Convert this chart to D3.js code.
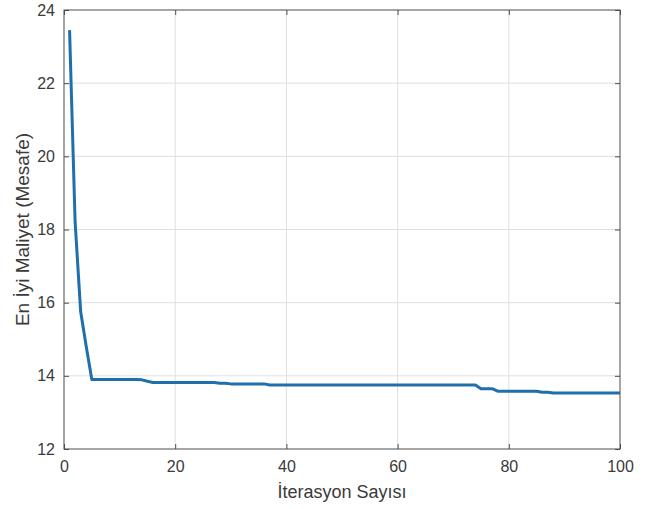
<!DOCTYPE html>
<html>
<head>
<meta charset="utf-8">
<script src="https://cdn.jsdelivr.net/npm/d3@7"></script>
<style>
body { margin: 0; background: #fff; }
svg text { font-family: "Liberation Sans", Arial, sans-serif; }
</style>
</head>
<body>
<script>
// en iyi maliyet per iterasyon (1..100)
var bestCost = [
    23.45, 18.2, 15.75, 14.8, 13.9, 13.9, 13.9, 13.9, 13.9, 13.9,
    13.9, 13.9, 13.9, 13.89, 13.85, 13.82, 13.82, 13.82, 13.82, 13.82,
    13.82, 13.82, 13.82, 13.82, 13.82, 13.82, 13.82, 13.8, 13.8, 13.78,
    13.78, 13.78, 13.78, 13.78, 13.78, 13.78, 13.75, 13.75, 13.75, 13.75,
    13.75, 13.75, 13.75, 13.75, 13.75, 13.75, 13.75, 13.75, 13.75, 13.75,
    13.75, 13.75, 13.75, 13.75, 13.75, 13.75, 13.75, 13.75, 13.75, 13.75,
    13.75, 13.75, 13.75, 13.75, 13.75, 13.75, 13.75, 13.75, 13.75, 13.75,
    13.75, 13.75, 13.75, 13.75, 13.65, 13.65, 13.65, 13.58, 13.58, 13.58,
    13.58, 13.58, 13.58, 13.58, 13.58, 13.55, 13.55, 13.53, 13.53, 13.53,
    13.53, 13.53, 13.53, 13.53, 13.53, 13.53, 13.53, 13.53, 13.53, 13.53
];
var iterations = bestCost.map(function(d, i) { return i + 1; });
var xTicks = [0, 20, 40, 60, 80, 100];
var yTicks = [12, 14, 16, 18, 20, 22, 24];

var W = 660, H = 509;
var margin = { top: 10, right: 40, bottom: 60, left: 64 },
    width = 620 - margin.left,
    height = 449 - margin.top;

var svg = d3.select("body")
    .append("svg")
    .attr("width", W)
    .attr("height", H);

var g = svg.append("g")
    .attr("transform", "translate(" + margin.left + "," + margin.top + ")");

var x = d3.scaleLinear().domain([0, 100]).range([0, width]);
var y = d3.scaleLinear().domain([12, 24]).range([height, 0]);

// grid
g.append("g").selectAll("line")
    .data(xTicks.slice(1, -1))
    .enter().append("line")
    .attr("x1", function(d) { return x(d); })
    .attr("x2", function(d) { return x(d); })
    .attr("y1", 0).attr("y2", height)
    .attr("stroke", "#dfdfdf").attr("stroke-width", 1);

g.append("g").selectAll("line")
    .data(yTicks.slice(1, -1))
    .enter().append("line")
    .attr("y1", function(d) { return y(d); })
    .attr("y2", function(d) { return y(d); })
    .attr("x1", 0).attr("x2", width)
    .attr("stroke", "#dfdfdf").attr("stroke-width", 1);

// line
var line = d3.line()
    .x(function(d, i) { return x(iterations[i]); })
    .y(function(d) { return y(d); });

g.append("path")
    .datum(bestCost)
    .attr("d", line)
    .attr("fill", "none")
    .attr("stroke", "#1f6fad")
    .attr("stroke-width", 3)
    .attr("stroke-linejoin", "round");

// axes (ticks inside, MATLAB style)
function styleAxis(sel) {
    sel.select(".domain").remove();
    sel.selectAll("line").attr("stroke", "#4d4d4d");
    sel.selectAll("text")
        .style("font-size", "16px")
        .attr("fill", "#3a3a3a");
}

g.append("g")
    .attr("transform", "translate(0," + height + ")")
    .call(d3.axisBottom(x).tickValues(xTicks).tickSizeInner(-5).tickSizeOuter(0).tickPadding(12))
    .call(styleAxis);

g.append("g")
    .call(d3.axisLeft(y).tickValues(yTicks).tickSizeInner(-5).tickSizeOuter(0).tickPadding(9))
    .call(styleAxis);

g.append("g")
    .call(d3.axisTop(x).tickValues(xTicks).tickSizeInner(-5).tickSizeOuter(0).tickFormat(""))
    .call(styleAxis);

g.append("g")
    .attr("transform", "translate(" + width + ",0)")
    .call(d3.axisRight(y).tickValues(yTicks).tickSizeInner(-5).tickSizeOuter(0).tickFormat(""))
    .call(styleAxis);

// box
g.append("rect")
    .attr("width", width)
    .attr("height", height)
    .attr("fill", "none")
    .attr("stroke", "#4d4d4d")
    .attr("stroke-width", 1);

// labels
svg.append("text")
    .attr("x", margin.left + width / 2)
    .attr("y", 498)
    .attr("text-anchor", "middle")
    .style("font-size", "18px")
    .attr("fill", "#3a3a3a")
    .text("İterasyon Sayısı");

svg.append("text")
    .attr("transform", "translate(29," + (margin.top + height / 2) + ") rotate(-90)")
    .attr("text-anchor", "middle")
    .style("font-size", "19px")
    .attr("fill", "#3a3a3a")
    .text("En İyi Maliyet (Mesafe)");
</script>
</body>
</html>
